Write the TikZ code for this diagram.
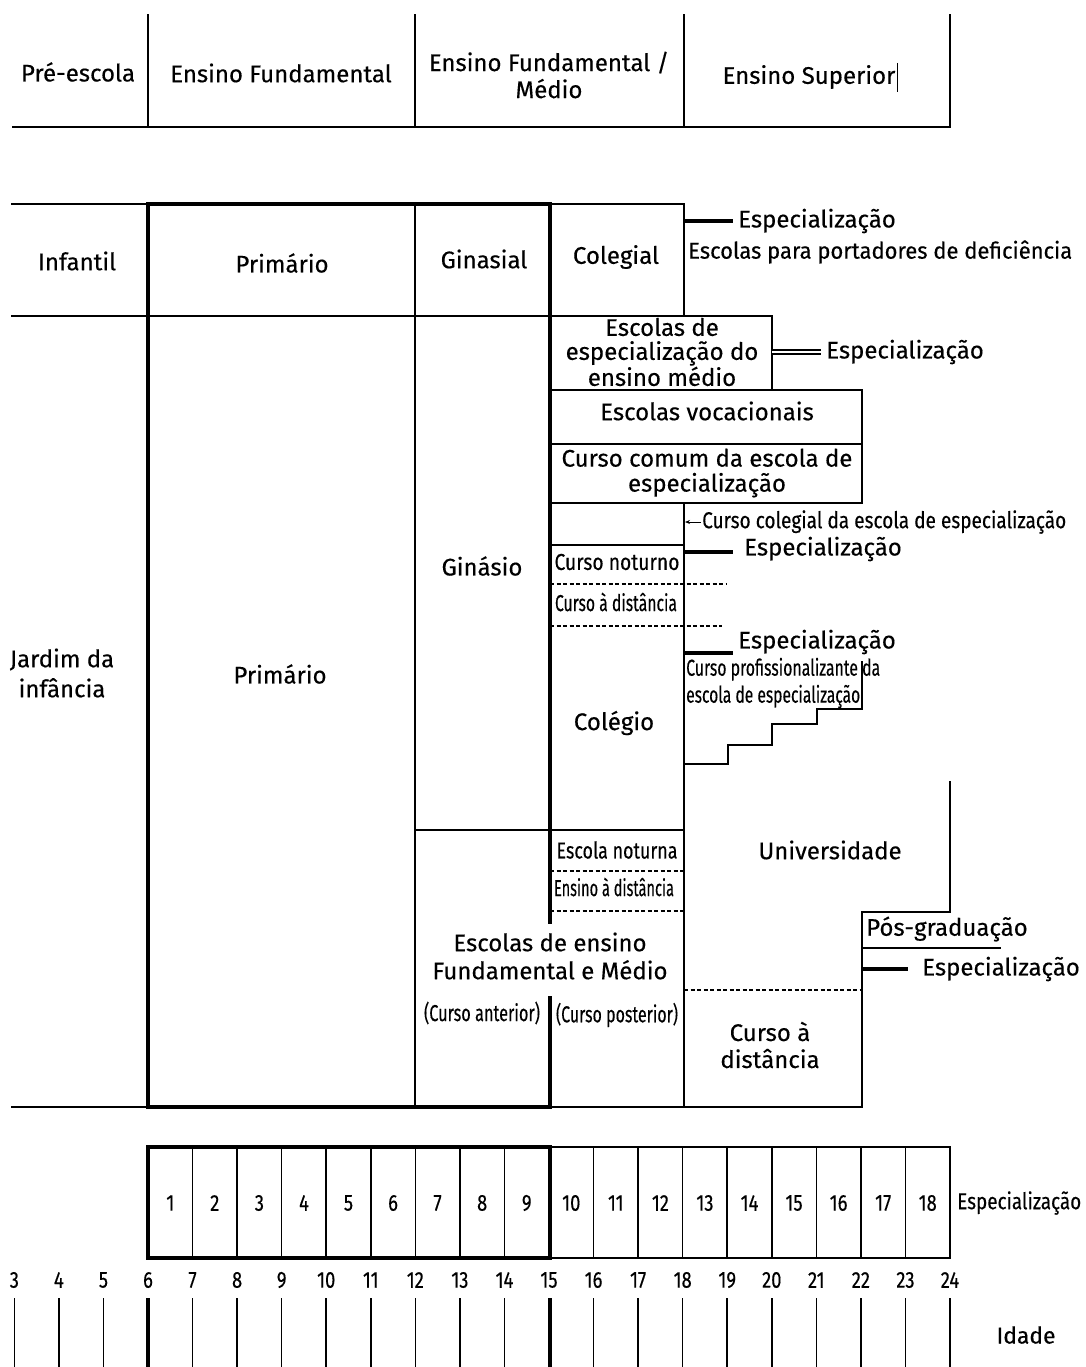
\documentclass[tikz,border=0pt]{standalone}
\usepackage{fontspec}
\usepackage{graphicx}
\setmainfont[FakeBold=0.35]{Fira Sans}
\usetikzlibrary{arrows.meta}
\newcommand{\cw}[2]{\resizebox{#1pt}{\height}{#2}}
\begin{document}
\begin{tikzpicture}[x=1pt,y=-1pt,
  thinl/.style={line width=1.5pt,line cap=rect},
  thickl/.style={line width=3.4pt,line cap=rect},
  dashl/.style={line width=1.2pt,dash pattern=on 4pt off 2.5pt},
  lab/.style={font=\fontsize{24}{27}\selectfont,inner sep=0pt},
  cond/.style={font=\fontsize{23}{27}\selectfont,inner sep=0pt}]
\useasboundingbox (0,0) rectangle (1085,1367);

% ---------- header ----------
\foreach \x in {148,415,684,950} \draw[thinl] (\x,15) -- (\x,127);
\draw[line width=2.2pt] (12,127) -- (950,127);
\node[lab] (hpre) at (78,72) {Pré-escola};
\node[lab] (hfund) at (281,73) {Ensino Fundamental};
\node[lab,align=center] (hmed) at (549,75) {Ensino Fundamental /\\Médio};
\node[lab] (hsup) at (809,77) {Ensino Superior};
\draw[line width=1.5pt] ([xshift=2pt]hsup.east |- 0,63) -- ([xshift=2pt]hsup.east |- 0,92);

% ---------- main frame ----------
\draw[thinl] (12,204) -- (148,204);
\draw[thinl] (550,204) -- (684,204) -- (684,316);
\draw[thinl] (684,503) -- (684,1107);
\draw[thinl] (415,204) -- (415,1107);
\draw[thinl] (12,316) -- (772,316) -- (772,390);
\draw[thinl] (12,1107) -- (148,1107);
\draw[thinl] (550,1107) -- (862,1107);
\draw[thickl] (148,1107) -- (148,204) -- (550,204) -- (550,922);
\draw[thickl] (550,998) -- (550,1107);
\draw[thickl] (148,1107) -- (550,1107);

% boxes on right
\draw[thinl] (550,390) -- (862,390) -- (862,503) -- (550,503);
\draw[thinl] (550,444) -- (862,444);
\draw[thinl] (550,545) -- (684,545);
\draw[dashl] (550,584) -- (726,584);
\draw[dashl] (550,626) -- (722,626);
\draw[thinl] (684,764) -- (728,764) -- (728,745) -- (772,745) -- (772,724) -- (817,724) -- (817,709) -- (862,709) -- (862,662);
\draw[thinl] (415,830) -- (684,830);
\draw[dashl] (550,871) -- (684,871);
\draw[dashl] (550,911) -- (684,911);
\draw[thinl] (950,782) -- (950,912) -- (862,912) -- (862,1107);
\draw[thinl] (862,948) -- (1000,948);
\draw[dashl] (684,990) -- (862,990);

% ---------- labels ----------
\node[lab] (infantil) at (77,261) {Infantil};
\node[lab] (prim1) at (282,263) {Primário};
\node[lab] (ginasial) at (484,259) {Ginasial};
\node[lab] (colegial) at (616,257) {Colegial};
\node[lab,anchor=west] (esp1) at (738,221) {Especialização};
\coordinate (e1) at (684,221);
\draw[thickl,line cap=butt] (e1) -- ([xshift=-5pt]esp1.west |- e1);
\node[cond,anchor=west] (porta) at (688,252) {\cw{384}{Escolas para portadores de deficiência}};

\node[lab,align=center,font=\fontsize{24}{30}\selectfont] (jardim) at (62,673) {Jardim da\\infância};
\node[lab] (prim2) at (280,674) {Primário};
\node[lab] (ginasio) at (482,566) {Ginásio};
\node[lab,align=center,font=\fontsize{24}{24}\selectfont] (eem) at (662,352) {Escolas de\\especialização do\\ensino médio};
\node[lab,anchor=west] (esp2) at (826,352) {Especialização};
\coordinate (e2) at (772,352);
\draw[line width=1.4pt,double distance=2.6pt] (e2) -- ([xshift=-5pt]esp2.west |- e2);
\node[lab] (voc) at (707,411) {Escolas vocacionais};
\node[lab,align=center,font=\fontsize{24}{25}\selectfont] (comum) at (707,473) {Curso comum da escola de\\especialização};
\node[cond,anchor=west] (colesp) at (702,522) {\cw{364}{Curso colegial da escola de especialização}};
\coordinate (a1) at (685,522);
\draw[line width=1pt,-{Stealth[length=5pt,width=4pt]}] ([xshift=-1pt]colesp.west) -- (a1);
\node[lab,anchor=west] (esp3) at (744,549) {Especialização};
\coordinate (e3) at (684,552);
\draw[thickl,line cap=butt] (e3) -- (733,552);
\node[cond] (noturno) at (617,562) {\cw{125}{Curso noturno}};
\node[cond] (cdist) at (616,602) {\cw{122}{Curso à distância}};
\node[lab,anchor=west] (esp4) at (738,642) {Especialização};
\coordinate (e4) at (684,653);
\draw[thickl,line cap=butt] (e4) -- (733,653);
\node[cond,anchor=west,align=left] (prof) at (686,683) {\cw{194}{Curso profissionalizante da}\\\cw{174}{escola de especialização}};
\node[lab] (colegio) at (614,723) {Colégio};
\node[lab] (univ) at (830,850) {Universidade};
\node[cond] (enot) at (617,850) {\cw{121}{Escola noturna}};
\node[cond] (edist) at (614,887) {\cw{120}{Ensino à distância}};
\node[lab,align=center,font=\fontsize{24}{28}\selectfont] (efm) at (550,956) {Escolas de ensino\\Fundamental e Médio};
\node[cond] (cant) at (482,1013) {\cw{116}{(Curso anterior)}};
\node[cond] (cpost) at (617,1015) {\cw{122}{(Curso posterior)}};
\node[lab,anchor=west] (pos) at (866,929) {Pós-graduação};
\node[lab,anchor=west] (esp5) at (922,969) {Especialização};
\coordinate (e5) at (862,969);
\draw[thickl,line cap=butt] (e5) -- ([xshift=-14pt]esp5.west |- e5);
\node[lab,align=center] (cdist2) at (770,1045) {Curso à\\distância};

% ---------- grade row ----------
\pgfmathsetmacro{\w}{802/18}
\draw[thinl] (550,1147) rectangle (950,1258);
\foreach \i in {1,...,17} \draw[thinl] ({148+\i*\w},1147) -- ({148+\i*\w},1258);
\draw[thickl] (148,1147) rectangle (550,1258);
\foreach \i in {1,...,18} \node[cond] (g\i) at ({148+(\i-0.5)*\w},1203) {\scalebox{0.8}[1]{\i}};
\node[cond,anchor=west] (gesp) at (957,1203) {\cw{124}{Especialização}};

% ---------- ages ----------
\foreach \a in {3,...,24} {
  \node[cond] (age\a) at ({148+(\a-6)*\w},1280) {\scalebox{0.8}[1]{\a}};
  \draw[thinl,line cap=butt] ({148+(\a-6)*\w},1298) -- ({148+(\a-6)*\w},1367);
}
\draw[thickl,line cap=butt] (148,1298) -- (148,1367);
\draw[thickl,line cap=butt] (550,1298) -- (550,1367);
\node[cond] (idade) at (1026,1335) {\cw{59}{Idade}};
\end{tikzpicture}
\end{document}
